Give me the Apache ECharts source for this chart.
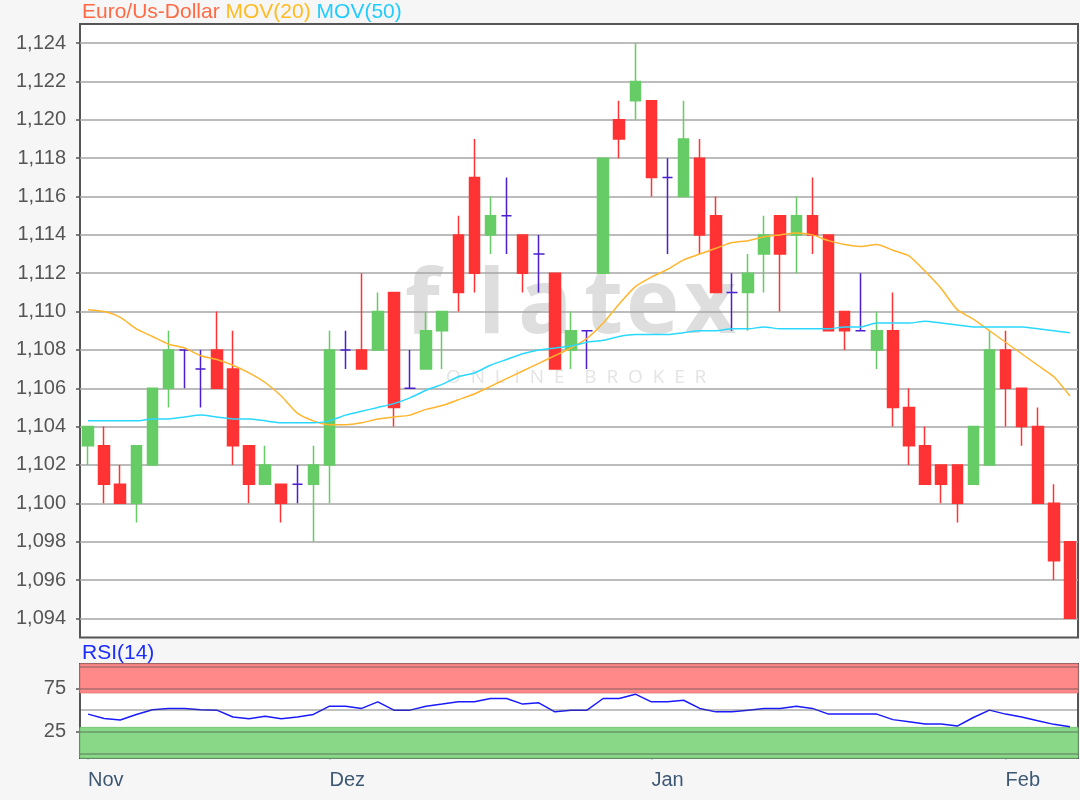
<!DOCTYPE html>
<html><head><meta charset="utf-8">
<script src="https://cdn.jsdelivr.net/npm/echarts@6/dist/echarts.min.js"></script>
<style>html,body{margin:0;padding:0;background:#f6f6f6;}#c{width:1080px;height:800px;}</style>
</head><body><div id="c"></div>
<script>
const dates = [
 '11.11.','12.11.','13.11.','14.11.','15.11.','18.11.','19.11.','20.11.','21.11.','22.11.','25.11.','26.11.','27.11.','28.11.','29.11.',
 '02.12.','03.12.','04.12.','05.12.','06.12.','09.12.','10.12.','11.12.','12.12.','13.12.','16.12.','17.12.','18.12.','19.12.','20.12.','23.12.','24.12.','27.12.','30.12.','31.12.',
 '02.01.','03.01.','06.01.','07.01.','08.01.','09.01.','10.01.','13.01.','14.01.','15.01.','16.01.','17.01.','20.01.','21.01.','22.01.','23.01.','24.01.','27.01.','28.01.','29.01.','30.01.','31.01.',
 '03.02.','04.02.','05.02.','06.02.','07.02.'
];
const monthStarts = [0, 15, 35, 57];
const monthNames = ['Nov', 'Dez', 'Jan', 'Feb'];

const opens  = [1.103,1.103,1.101,1.100,1.102,1.106,1.108,1.107,1.108,1.107,1.103,1.101,1.101,1.101,1.101,1.102,1.108,1.108,1.108,1.111,1.106,1.107,1.109,1.114,1.117,1.114,1.115,1.114,1.113,1.112,1.108,1.109,1.112,1.120,1.121,1.121,1.117,1.116,1.118,1.115,1.111,1.111,1.113,1.115,1.114,1.115,1.114,1.110,1.109,1.108,1.109,1.105,1.103,1.102,1.102,1.101,1.102,1.108,1.106,1.104,1.100,1.098];
const closes = [1.104,1.101,1.100,1.103,1.106,1.108,1.108,1.107,1.106,1.103,1.101,1.102,1.100,1.101,1.102,1.108,1.108,1.107,1.110,1.105,1.106,1.109,1.110,1.111,1.112,1.115,1.115,1.112,1.113,1.107,1.109,1.109,1.118,1.119,1.122,1.117,1.117,1.119,1.114,1.111,1.111,1.112,1.114,1.113,1.115,1.114,1.109,1.109,1.109,1.109,1.105,1.103,1.101,1.101,1.100,1.104,1.108,1.106,1.104,1.100,1.097,1.094];
const lows   = [1.102,1.100,1.100,1.099,1.102,1.105,1.106,1.105,1.106,1.102,1.100,1.101,1.099,1.100,1.098,1.100,1.107,1.107,1.108,1.104,1.106,1.107,1.107,1.110,1.111,1.113,1.113,1.111,1.111,1.107,1.107,1.107,1.112,1.118,1.120,1.116,1.113,1.116,1.113,1.111,1.109,1.109,1.111,1.110,1.112,1.113,1.109,1.108,1.109,1.107,1.104,1.102,1.101,1.100,1.099,1.101,1.102,1.104,1.103,1.100,1.096,1.094];
const highs  = [1.104,1.104,1.102,1.103,1.106,1.109,1.108,1.108,1.110,1.109,1.103,1.103,1.101,1.102,1.103,1.109,1.109,1.112,1.111,1.111,1.108,1.110,1.110,1.115,1.119,1.116,1.117,1.114,1.114,1.112,1.110,1.109,1.118,1.121,1.124,1.121,1.118,1.121,1.119,1.116,1.112,1.113,1.115,1.115,1.116,1.117,1.114,1.110,1.112,1.110,1.111,1.106,1.104,1.102,1.102,1.104,1.109,1.109,1.106,1.105,1.101,1.098];

const mov20 = [1.1101,1.1100,1.1097,1.1091,1.1087,1.1083,1.1081,1.1077,1.1075,1.1072,1.1068,1.1063,1.1056,1.1047,1.1043,1.1041,1.1041,1.1042,1.1044,1.1045,1.1046,1.1049,1.1051,1.1054,1.1057,1.1061,1.1065,1.1069,1.1073,1.1077,1.1081,1.1086,1.1094,1.1104,1.1113,1.1118,1.1122,1.1127,1.1130,1.1133,1.1136,1.1137,1.1139,1.1140,1.1141,1.1140,1.1137,1.1135,1.1134,1.1135,1.1132,1.1129,1.1121,1.1112,1.1101,1.1096,1.1090,1.1084,1.1078,1.1072,1.1066,1.1056];
const mov50 = [1.1043,1.1043,1.1043,1.1043,1.1044,1.1044,1.1045,1.1046,1.1045,1.1044,1.1044,1.1043,1.1042,1.1042,1.1042,1.1043,1.1046,1.1048,1.1050,1.1052,1.1055,1.1059,1.1062,1.1066,1.1068,1.1072,1.1075,1.1078,1.1080,1.1081,1.1082,1.1084,1.1085,1.1087,1.1088,1.1088,1.1088,1.1089,1.1090,1.1090,1.1091,1.1091,1.1092,1.1091,1.1091,1.1091,1.1091,1.1092,1.1092,1.1094,1.1094,1.1094,1.1095,1.1094,1.1093,1.1092,1.1092,1.1092,1.1092,1.1091,1.1090,1.1089];
const rsi14 = [45.4,40.4,38.5,45,50.5,52,52,50.5,50,42,40,43,40,42,45,54.6,54.6,52,59.6,50,50,54.6,57,59.6,59.6,63.5,63.5,57,58.5,48,50,50,63.5,63.5,68.5,59.6,59.6,61.5,52,48,48,50,52,52,54.6,52,45.4,45.4,45.4,45.4,39,36.5,34,34,31.5,41.5,50,45.4,42,37.7,33.5,30.8];

const priceTicks = [1.094,1.096,1.098,1.100,1.102,1.104,1.106,1.108,1.110,1.112,1.114,1.116,1.118,1.120,1.122,1.124];
const rsiLabelTicks = [25, 75];
const rsiGridLines = [0, 25, 50, 75, 100];
const rsiOverbought = 70;
const rsiOversold = 30;

const candles = opens.map((o, i) => [o, closes[i], lows[i], highs[i]]);

const FONT = 'Liberation Sans, Arial, sans-serif';
const chart = echarts.init(document.getElementById('c'), null, {renderer: 'canvas'});

const wmLetters = [['f',405],['l',478],['a',518],['t',584],['e',626],['x',684]];

chart.setOption({
  backgroundColor: '#f6f6f6',
  animation: false,
  title: [{
    left: 82, top: 2, padding: 0,
    text: '{a|Euro/Us-Dollar} {b|MOV(20)} {c|MOV(50)}',
    textStyle: { fontFamily: FONT, fontSize: 21, fontWeight: 'normal',
      rich: {
        a: {color: '#ff6a45', fontSize: 21, fontFamily: FONT},
        b: {color: '#ffbb22', fontSize: 21, fontFamily: FONT},
        c: {color: '#22ccff', fontSize: 21, fontFamily: FONT}
      } }
  }, {
    left: 82, top: 643, padding: 0,
    text: 'RSI(14)',
    textStyle: {color: '#1a2cff', fontSize: 21, fontWeight: 'normal', fontFamily: FONT}
  }],
  graphic: [{
    type: 'group', z: 1, silent: true,
    children: wmLetters.map(l => ({
      type: 'text', x: l[1], y: 262,
      style: {text: l[0], font: 'bold 90px "Open Sans", sans-serif', fill: '#dedede'}
    })).concat([{
      type: 'text', x: 446, y: 368,
      style: {text: 'O  N  L  I  N  E    B  R  O  K  E  R', font: '19px "Open Sans", sans-serif', fill: '#e4e4e4'}
    }])
  }],
  grid: [
    {left: 80, right: 2, top: 24, height: 613.5, show: true, backgroundColor: '#ffffff', borderColor: '#555', borderWidth: 2},
    {left: 80, right: 2, top: 664, height: 94, show: true, backgroundColor: '#ffffff', borderColor: '#555', borderWidth: 2}
  ],
  xAxis: [{
    type: 'category', gridIndex: 0, data: dates, boundaryGap: true,
    axisLine: {show: false}, axisTick: {show: false}, axisLabel: {show: false}, splitLine: {show: false}
  }, {
    type: 'category', gridIndex: 1, data: dates, boundaryGap: true,
    axisLine: {show: false},
    axisTick: {show: true, alignWithLabel: true, length: 6, lineStyle: {color: '#3d5875', width: 1.5},
      interval: (idx) => monthStarts.indexOf(idx) >= 0},
    axisLabel: {show: true, interval: (idx) => monthStarts.indexOf(idx) >= 0,
      formatter: (v, idx) => monthNames[monthStarts.indexOf(idx)] || '',
      align: 'left', margin: 12, color: '#3d5875', fontSize: 20, fontFamily: FONT},
    splitLine: {show: false}
  }],
  yAxis: [{
    type: 'value', gridIndex: 0, min: 1.093, max: 1.125, scale: true,
    axisLine: {show: false},
    axisTick: {show: true, length: 4, lineStyle: {color: '#555', width: 1.5}, customValues: priceTicks},
    axisLabel: {customValues: priceTicks, color: '#555', fontSize: 20, fontFamily: FONT, margin: 14,
      formatter: v => v.toFixed(3).replace('.', ',')},
    splitLine: {show: true, lineStyle: {color: '#a6a6a6', width: 1.5}}
  }, {
    type: 'value', gridIndex: 1, min: -5.5, max: 103.5,
    axisLine: {show: false},
    axisTick: {show: true, length: 4, lineStyle: {color: '#555', width: 1.5}, customValues: rsiLabelTicks},
    axisLabel: {customValues: rsiLabelTicks, color: '#555', fontSize: 20, fontFamily: FONT, margin: 14},
    splitLine: {show: false}
  }],
  series: [{
    type: 'candlestick', xAxisIndex: 0, yAxisIndex: 0, data: candles, barWidth: 11, z: 3,
    itemStyle: {color: '#66cc66', color0: '#ff3333', borderColor: '#66cc66', borderColor0: '#ff3333',
      borderColorDoji: '#4a1fd0', borderWidth: 1.5}
  }, {
    type: 'line', xAxisIndex: 0, yAxisIndex: 0, data: mov20, symbol: 'none', smooth: 0.2, z: 4,
    lineStyle: {color: '#ffb52e', width: 1.5}
  }, {
    type: 'line', xAxisIndex: 0, yAxisIndex: 0, data: mov50, symbol: 'none', smooth: 0.2, z: 4,
    lineStyle: {color: '#2ad8ff', width: 1.5}
  }, {
    type: 'line', xAxisIndex: 1, yAxisIndex: 1, data: rsi14, symbol: 'none', z: 4,
    lineStyle: {color: '#1a1aff', width: 1.5},
    markArea: {silent: true, itemStyle: {opacity: 1},
      data: [
        [{yAxis: rsiOverbought, itemStyle: {color: '#ff8888', borderColor: '#e87878', borderWidth: 1}}, {yAxis: 103.5}],
        [{yAxis: -5.5, itemStyle: {color: '#88d888', borderColor: '#74c474', borderWidth: 1}}, {yAxis: rsiOversold}]
      ]},
    markLine: {silent: true, symbol: 'none', label: {show: false},
      lineStyle: {color: 'rgba(70,70,70,0.45)', type: 'solid', width: 1.5},
      data: rsiGridLines.map(v => ({yAxis: v}))}
  }]
});
</script></body></html>
